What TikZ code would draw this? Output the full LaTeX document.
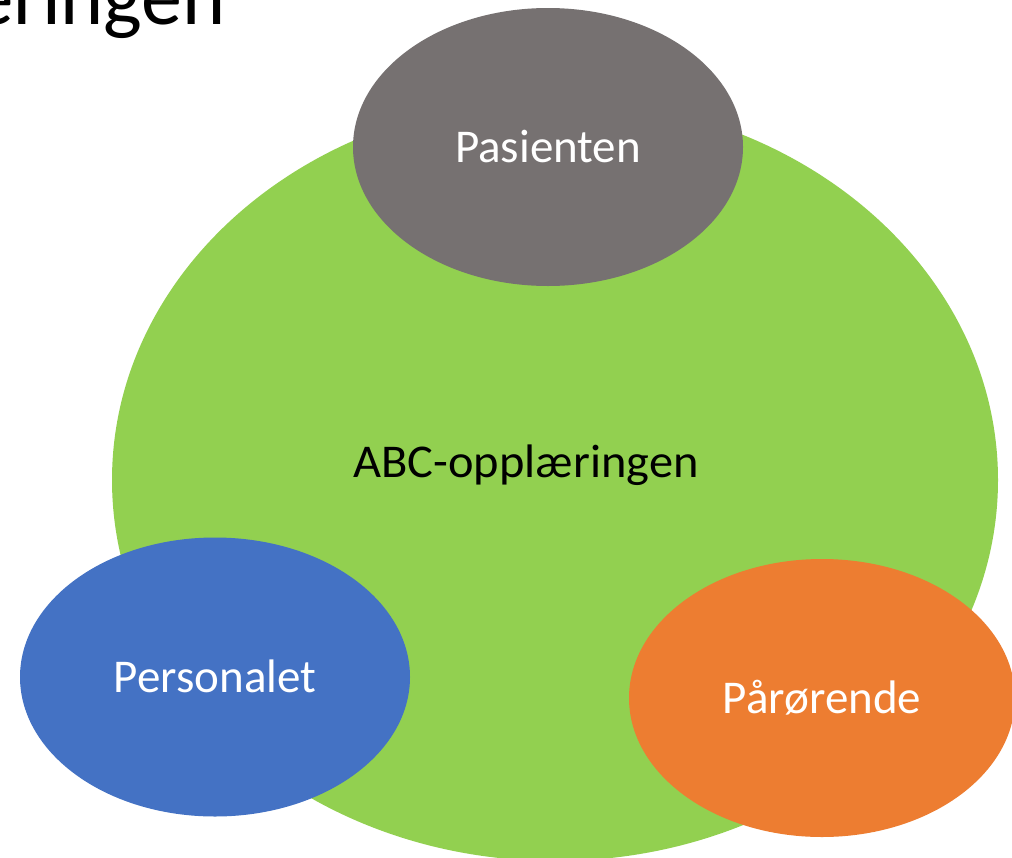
\documentclass[tikz,border=0pt]{standalone}
\usepackage{fontspec}
\setmainfont{Carlito}
\newfontfamily\widefont[FakeStretch=1.03]{Carlito}
\usetikzlibrary{shapes.geometric}
\definecolor{cgreen}{HTML}{92D050}
\definecolor{cgray}{HTML}{767171}
\definecolor{cblue}{HTML}{4472C4}
\definecolor{corange}{HTML}{ED7D31}
\tikzset{
  blob/.style={ellipse, inner sep=0pt, draw=none, text=white,
    font=\fontsize{47}{56}\selectfont, text height=30pt, text depth=0pt},
  bodytext/.style={inner sep=0pt, font=\widefont\fontsize{47}{56}\selectfont, text=black},
  titletext/.style={inner sep=0pt, font=\fontsize{82}{100}\selectfont, text=black}
}
\begin{document}
\begin{tikzpicture}[x=1pt, y=-1pt]
  \useasboundingbox (0,0) rectangle (1012,857);
  \clip (0,0) rectangle (1012,857);
  \fill[white] (0,0) rectangle (1012,857);
  % title (cut off at the top-left)
  \node[titletext, anchor=base east] (title) at (226,24) {æringen};
  % main circle
  \node[ellipse, fill=cgreen, inner sep=0pt, minimum width=886pt, minimum height=762pt] (main) at (555,480) {};
  \node[bodytext, anchor=base] (maintext) at (526,477) {ABC-opplæringen};
  % satellites
  \node[blob, fill=cgray, minimum width=390pt, minimum height=278pt] (pas) at (548,147) {Pasienten};
  \node[blob, fill=cblue, minimum width=390pt, minimum height=279pt] (pers) at (215,677) {Personalet};
  \node[blob, fill=corange, minimum width=386pt, minimum height=278pt] (par) at (822,698) {Pårørende};
\end{tikzpicture}
\end{document}
